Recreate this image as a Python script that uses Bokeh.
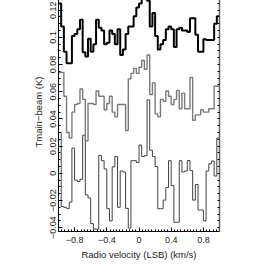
import numpy as np
from bokeh.plotting import figure
from bokeh.models import Range1d, LinearAxis, FixedTicker
from bokeh.embed import file_html
from bokeh.resources import INLINE

# velocity channel grid (km/s)
vel_min = -1.0
vel_max = 1.0
n_chan = 60

# three spectra (K)
spec_top = [0.125, 0.108, 0.0895, 0.081, 0.081, 0.101, 0.1025, 0.106, 0.113, 0.089,
            0.086, 0.099, 0.0895, 0.095, 0.113, 0.107, 0.105, 0.095, 0.096, 0.105,
            0.1025, 0.095, 0.106, 0.087, 0.091, 0.1025, 0.108, 0.108, 0.1155, 0.122,
            0.125, 0.131, 0.136, 0.127, 0.108, 0.118, 0.101, 0.091, 0.095, 0.098,
            0.106, 0.108, 0.106, 0.093, 0.106, 0.107, 0.105, 0.105, 0.104, 0.114,
            0.114, 0.102, 0.0895, 0.0895, 0.0986, 0.098, 0.098, 0.098, 0.110, 0.1155]

spec_mid = [0.0742, 0.0742, 0.0567, 0.030, 0.026, 0.045, 0.0506, 0.0513, 0.062, 0.0544,
            0.024, 0.0513, 0.0513, 0.0506, 0.0605, 0.0567, 0.0567, 0.0467, 0.0513, 0.0567,
            0.045, 0.0415, 0.0506, 0.0506, 0.0506, 0.0315, 0.0695, 0.0735, 0.0772, 0.0735,
            0.078, 0.083, 0.0765, 0.087, 0.058, 0.0665, 0.0437, 0.0415, 0.0544, 0.053,
            0.0605, 0.0567, 0.0506, 0.0544, 0.061, 0.0475, 0.059, 0.0475, 0.0475, 0.0705,
            0.039, 0.043, 0.043, 0.0467, 0.045, 0.045, 0.0475, 0.0475, 0.064, 0.064]

spec_bot = [0.030, -0.0245, -0.025, -0.026, -0.0212, 0.0185, -0.005, -0.006, -0.0044, 0.028,
            -0.0159, -0.0181, -0.037, -0.041, -0.041, 0.0132, 0.0093, 0.0032, -0.026, -0.035,
            0.0048, 0.0124, -0.025, 0.0017, 0.001, -0.0258, -0.0403, 0.0093, 0.0093, 0.008,
            0.0208, 0.0124, 0.013, 0.054, 0.017, 0.0124, 0.005, -0.026, -0.026, -0.0197,
            -0.0105, 0.0093, -0.009, -0.036, -0.036, 0.0093, 0.001, 0.0017, 0.0094, 0.002,
            -0.0197, -0.0082, -0.027, -0.027, -0.035, 0.0017, 0.007, 0.009, -0.002, 0.026]

x_ticks = [-0.8, -0.4, 0.0, 0.4, 0.8]
x_tick_labels = ["−0.8", "−0.4", "0", "0.4", "0.8"]
y_ticks = [-0.04, -0.02, 0.0, 0.02, 0.04, 0.06, 0.08, 0.1, 0.12]
y_tick_labels = ["−0.04", "−0.02", "0", "0.02", "0.04", "0.06", "0.08", "0.1", "0.12"]
x_minor = [round(-1.0 + 0.04 * i, 4) for i in range(51)]
y_minor = [round(-0.045 + 0.005 * i, 4) for i in range(38)]

FONT = "Liberation Sans"

p = figure(width=221, height=270, output_backend="svg", toolbar_location=None,
           x_range=Range1d(vel_min, vel_max), y_range=Range1d(-0.0428, 0.1330),
           min_border_left=58, min_border_right=2, min_border_top=0, min_border_bottom=10,
           margin=(-8, 0, -10, 0))
p.xgrid.visible = False
p.ygrid.visible = False
p.outline_line_color = None
p.background_fill_color = "white"

edges = np.linspace(vel_min, vel_max, n_chan + 1)
for spec, color, lw in [(spec_bot, "#404040", 1.0), (spec_mid, "#7a7a7a", 1.4), (spec_top, "black", 2.0)]:
    yv = list(spec) + [spec[-1]]
    p.step(edges, yv, mode="after", line_color=color, line_width=lw)

def style_axis(ax, ticks, minor, labels):
    ax.ticker = FixedTicker(ticks=ticks, minor_ticks=minor)
    ax.major_tick_in = 4
    ax.major_tick_out = 0
    ax.minor_tick_in = 2
    ax.minor_tick_out = 0
    ax.axis_line_color = "black"
    ax.major_tick_line_color = "black"
    ax.minor_tick_line_color = "black"
    ax.major_label_overrides = dict(zip(ticks, labels))
    ax.major_label_text_font = FONT
    ax.major_label_text_font_size = "9px"
    ax.major_label_text_color = "#222222"
    ax.axis_label_text_font = FONT
    ax.axis_label_text_font_size = "9.5px"
    ax.axis_label_text_font_style = "normal"
    ax.axis_label_text_color = "#222222"

xa = p.xaxis[0]
style_axis(xa, x_ticks, x_minor, x_tick_labels)
xa.axis_label = "Radio velocity (LSB) (km/s)"
xa.major_label_standoff = 5
xa.axis_label_standoff = 3

ya = p.yaxis[0]
style_axis(ya, y_ticks, y_minor, y_tick_labels)
ya.axis_label = "Tmain−beam (K)"
ya.major_label_orientation = "vertical"
ya.major_label_standoff = 2
ya.axis_label_standoff = 4

# frame axes on top and right: tick marks only, no labels
top_ax = LinearAxis(ticker=FixedTicker(ticks=[], minor_ticks=x_minor),
                    minor_tick_in=2, minor_tick_out=0, major_tick_in=0, major_tick_out=0,
                    major_label_standoff=0, axis_line_color="black",
                    minor_tick_line_color="black")
p.add_layout(top_ax, "above")

right_ax = LinearAxis(ticker=FixedTicker(ticks=[], minor_ticks=y_minor),
                      minor_tick_in=2, minor_tick_out=0, major_tick_in=0, major_tick_out=0,
                      major_label_standoff=0, axis_line_color="#666666", axis_line_width=1.5,
                      minor_tick_line_color="black")
p.add_layout(right_ax, "right")

open("out.html", "w").write(file_html(p, INLINE))
